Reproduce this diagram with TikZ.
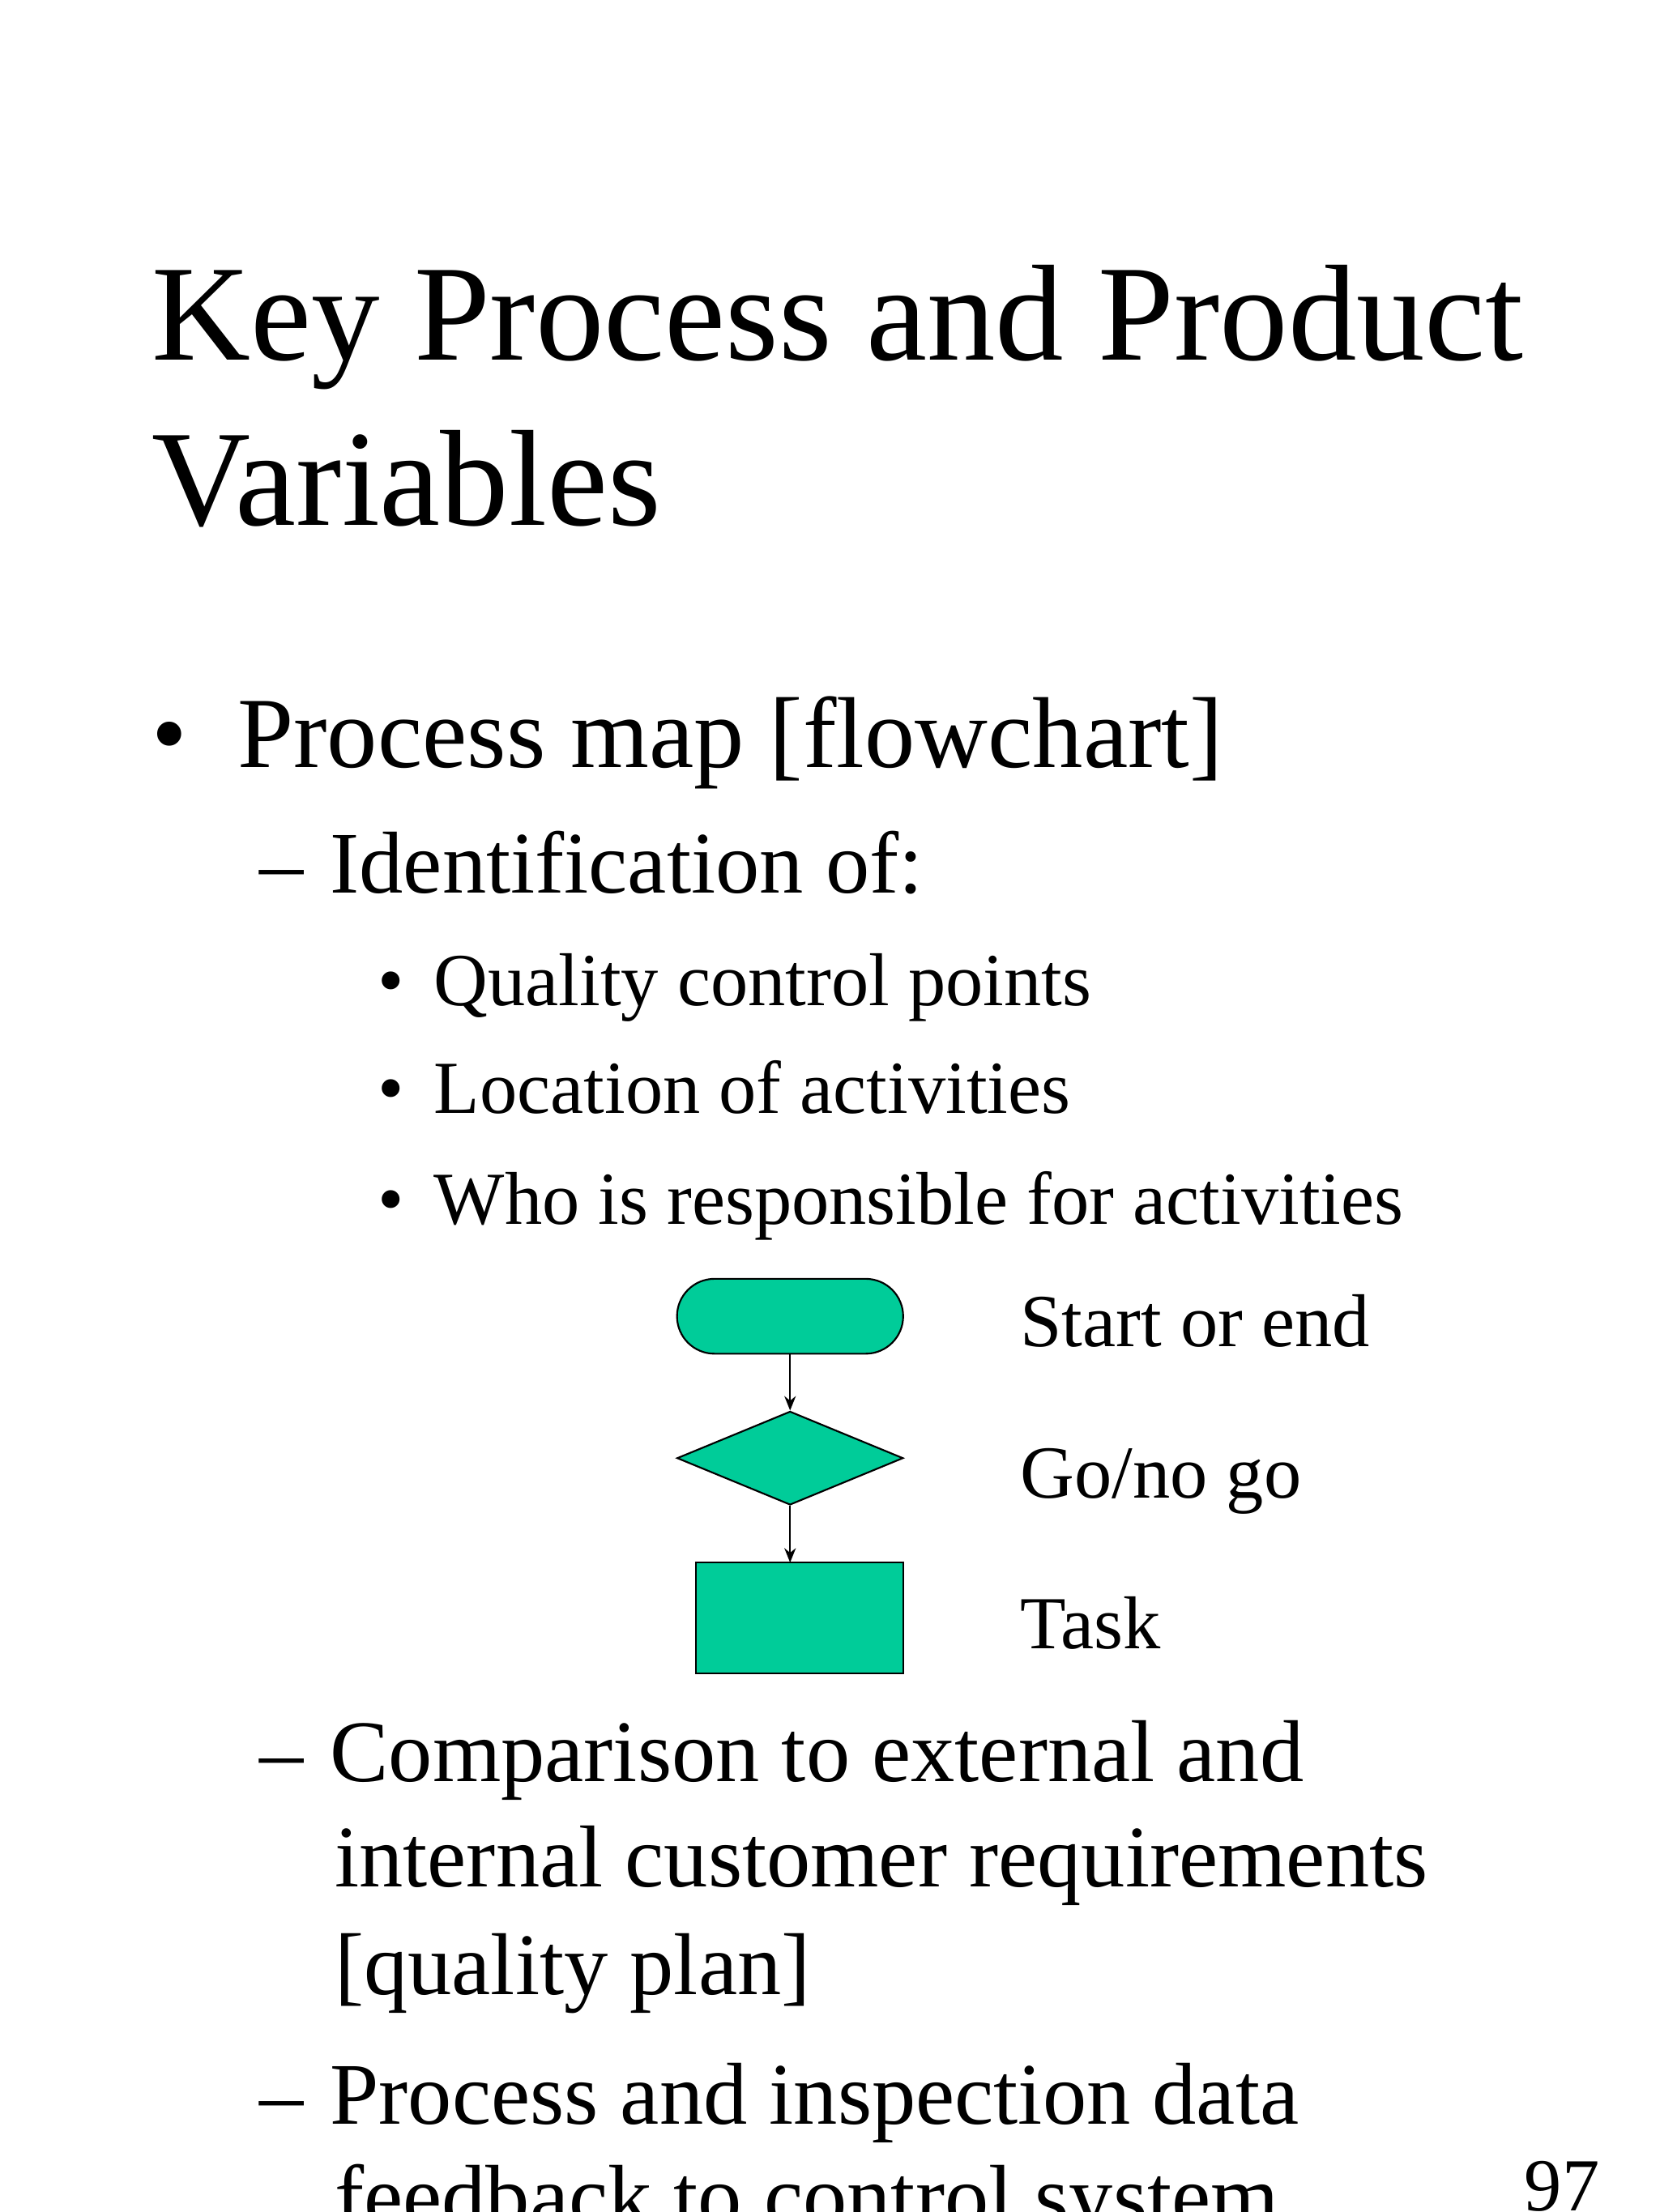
\documentclass[tikz,border=0pt]{standalone}
\usepackage{fontspec}
\setmainfont{Liberation Serif}
\usetikzlibrary{shapes.geometric,shapes.misc,arrows.meta}
\definecolor{teal1}{HTML}{00CC99}
\begin{document}
\begin{tikzpicture}[x=0.5pt,y=-0.5pt,
  txt/.style={anchor=base west,inner sep=0pt},
  shp/.style={draw=black,fill=teal1,line width=0.6pt},
  arr/.style={-{Stealth[length=5pt,width=4pt]},line width=0.5pt}]
\useasboundingbox (0,0) rectangle (1152,1536);
\node[txt,font=\fontsize{47.5}{50}\selectfont] (t1) at (105,250) {Key Process and Product};
\node[txt,font=\fontsize{47.5}{50}\selectfont] (t2) at (105,365) {Variables};
\node[txt,font=\fontsize{35}{36}\selectfont] (b1) at (105,533) {•\hspace{0.5em}Process map [flowchart]};
\node[txt,font=\fontsize{30.5}{32}\selectfont] (d1) at (180,620) {–\hspace{0.3em}Identification of:};
\node[txt,font=\fontsize{26}{28}\selectfont] (s1) at (262,698) {•\hspace{0.4em}Quality control points};
\node[txt,font=\fontsize{26}{28}\selectfont] (s2) at (262,773) {•\hspace{0.4em}Location of activities};
\node[txt,font=\fontsize{26}{28}\selectfont] (s3) at (262,850) {•\hspace{0.4em}Who is responsible for activities};
\node[shp,rounded rectangle,minimum width=78.5pt,minimum height=26pt,inner sep=0pt] (term) at (548.5,914) {};
\node[shp,diamond,aspect=2.4,minimum width=78.5pt,minimum height=32.5pt,inner sep=0pt] (dia) at (548.5,1012.5) {};
\node[shp,rectangle,minimum width=72pt,minimum height=38.5pt,inner sep=0pt] (task) at (555,1123.5) {};
\coordinate (tt) at (548.5,1085);
\draw[arr] (term.south) -- (dia.north);
\draw[arr] (dia.south) -- (tt);
\node[txt,font=\fontsize{26}{28}\selectfont] (l1) at (708,935) {Start or end};
\node[txt,font=\fontsize{26}{28}\selectfont] (l2) at (708,1040) {Go/no go};
\node[txt,font=\fontsize{26}{28}\selectfont] (l3) at (708,1145) {Task};
\node[txt,font=\fontsize{30.5}{32}\selectfont] (d2) at (180,1237) {–\hspace{0.3em}Comparison to external and};
\node[txt,font=\fontsize{30.5}{32}\selectfont] (d2b) at (232,1310) {internal customer requirements};
\node[txt,font=\fontsize{30.5}{32}\selectfont] (d2c) at (232,1385) {[quality plan]};
\node[txt,font=\fontsize{30.5}{32}\selectfont] (d3) at (180,1475) {–\hspace{0.3em}Process and inspection data};
\node[txt,font=\fontsize{30.5}{32}\selectfont] (d3b) at (232,1546) {feedback to control system};
\node[txt,font=\fontsize{26}{28}\selectfont] (pg) at (1058,1535) {97};
\end{tikzpicture}
\end{document}
